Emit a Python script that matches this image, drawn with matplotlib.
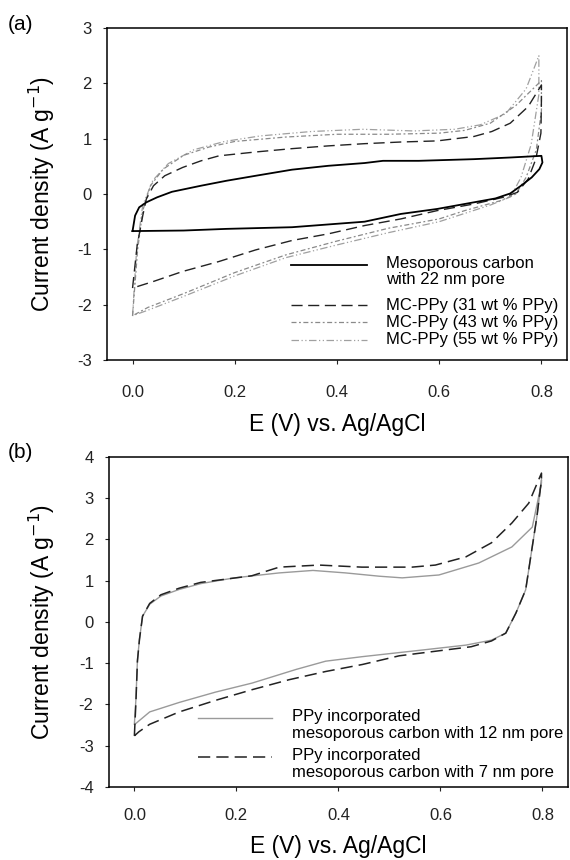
import matplotlib
matplotlib.use("Agg")
import matplotlib.pyplot as plt

plt.rcParams['font.family'] = ['Liberation Sans', 'DejaVu Sans']

# ---------------- Panel (a) data ----------------
mc_x = [0.0, 0.005, 0.013, 0.027, 0.048, 0.077, 0.134, 0.184, 0.241, 0.312, 0.383, 0.454,
        0.49, 0.56, 0.668, 0.739, 0.8, 0.802, 0.796, 0.781, 0.76, 0.739, 0.71, 0.668,
        0.596, 0.525, 0.454, 0.312, 0.184, 0.1, 0.0]
mc_y = [-0.67, -0.39, -0.24, -0.15, -0.06, 0.04, 0.15, 0.24, 0.33, 0.44, 0.51, 0.56,
        0.6, 0.6, 0.63, 0.66, 0.69, 0.57, 0.45, 0.30, 0.15, 0.01, -0.08, -0.15,
        -0.27, -0.36, -0.50, -0.60, -0.63, -0.66, -0.67]

p31_x = [0.0, 0.009, 0.02, 0.027, 0.041, 0.063, 0.098, 0.134, 0.169, 0.241, 0.312, 0.383,
         0.454, 0.525, 0.596, 0.668, 0.703, 0.739, 0.774, 0.8, 0.8, 0.799, 0.789, 0.774,
         0.753, 0.725, 0.668, 0.596, 0.525, 0.454, 0.383, 0.312, 0.241, 0.169, 0.098,
         0.041, 0.0]
p31_y = [-1.7, -0.93, -0.39, -0.09, 0.15, 0.33, 0.48, 0.6, 0.69, 0.76, 0.82, 0.87,
         0.91, 0.94, 0.96, 1.04, 1.13, 1.28, 1.58, 1.97, 1.7, 1.1, 0.63, 0.27,
         0.03, -0.06, -0.18, -0.30, -0.45, -0.57, -0.72, -0.84, -1.01, -1.22, -1.40,
         -1.58, -1.7]

p43_x = [0.0, 0.01, 0.02, 0.035, 0.06, 0.1, 0.15, 0.2, 0.3, 0.4, 0.5, 0.6, 0.65, 0.7,
         0.75, 0.8, 0.8, 0.79, 0.77, 0.75, 0.72, 0.65, 0.6, 0.5, 0.4, 0.3, 0.2, 0.1,
         0.03, 0.0]
p43_y = [-2.2, -1.0, -0.3, 0.15, 0.45, 0.7, 0.85, 0.95, 1.03, 1.08, 1.08, 1.1, 1.15, 1.28,
         1.6, 2.05, 1.5, 0.8, 0.3, 0.0, -0.12, -0.3, -0.45, -0.62, -0.85, -1.1, -1.42, -1.8,
         -2.05, -2.2]

p55_x = [0.0, 0.008, 0.02, 0.04, 0.07, 0.12, 0.18, 0.25, 0.35, 0.45, 0.55, 0.63, 0.68,
         0.73, 0.77, 0.795, 0.795, 0.78, 0.76, 0.74, 0.7, 0.6, 0.5, 0.4, 0.3, 0.2, 0.1,
         0.03, 0.0]
p55_y = [-2.2, -1.0, -0.2, 0.25, 0.55, 0.8, 0.95, 1.05, 1.13, 1.17, 1.14, 1.17, 1.25,
         1.45, 1.9, 2.5, 1.8, 0.9, 0.3, -0.05, -0.2, -0.5, -0.7, -0.92, -1.15, -1.48, -1.85,
         -2.1, -2.2]

# ---------------- Panel (b) data ----------------
n12_x = [0.0, 0.003, 0.006, 0.01, 0.016, 0.03, 0.052, 0.088, 0.13, 0.196, 0.284, 0.35,
         0.414, 0.48, 0.525, 0.597, 0.675, 0.74, 0.78, 0.798, 0.798, 0.789, 0.779, 0.767,
         0.748, 0.728, 0.70, 0.65, 0.564, 0.447, 0.375, 0.317, 0.231, 0.159, 0.088, 0.03,
         0.001]
n12_y = [-2.48, -1.88, -0.92, -0.42, 0.14, 0.43, 0.63, 0.79, 0.93, 1.07, 1.19, 1.25,
         1.19, 1.11, 1.07, 1.14, 1.43, 1.82, 2.3, 3.37, 3.45, 2.55, 1.75, 0.78,
         0.22, -0.27, -0.44, -0.56, -0.68, -0.84, -0.95, -1.15, -1.48, -1.7, -1.95, -2.18,
         -2.48]

n7_x = [0.0, 0.003, 0.006, 0.01, 0.016, 0.03, 0.052, 0.088, 0.13, 0.23, 0.284, 0.362,
        0.446, 0.544, 0.59, 0.65, 0.70, 0.74, 0.773, 0.798, 0.798, 0.789, 0.779, 0.767,
        0.748, 0.728, 0.70, 0.66, 0.519, 0.447, 0.375, 0.303, 0.231, 0.159, 0.088, 0.03,
        0.009, 0.0]
n7_y = [-2.76, -1.95, -0.95, -0.42, 0.14, 0.45, 0.66, 0.82, 0.96, 1.12, 1.33, 1.38,
        1.33, 1.33, 1.38, 1.58, 1.92, 2.4, 2.88, 3.61, 3.45, 2.55, 1.75, 0.78,
        0.22, -0.27, -0.46, -0.6, -0.82, -1.03, -1.2, -1.4, -1.64, -1.9, -2.18, -2.48,
        -2.66, -2.76]

xticks = [0.0, 0.2, 0.4, 0.6, 0.8]
xtick_labels = ['0.0', '0.2', '0.4', '0.6', '0.8']
yticks_a = [-3, -2, -1, 0, 1, 2, 3]
yticks_b = [-4, -3, -2, -1, 0, 1, 2, 3, 4]

leg_a = ['Mesoporous carbon\nwith 22 nm pore', 'MC-PPy (31 wt % PPy)',
         'MC-PPy (43 wt % PPy)', 'MC-PPy (55 wt % PPy)']
leg_b = ['PPy incorporated\nmesoporous carbon with 12 nm pore',
         'PPy incorporated\nmesoporous carbon with 7 nm pore']

fig = plt.figure(figsize=(5.7, 8.6), dpi=100)
axa = fig.add_axes([0.1877, 0.5814, 0.807, 0.386])
axb = fig.add_axes([0.191, 0.0849, 0.8055, 0.3837])

sty_a = [dict(color='black', lw=1.3, ls='-'),
         dict(color='#222222', lw=1.0, ls=(0, (8, 4))),
         dict(color='#8a8a8a', lw=0.9, ls=(0, (4, 2, 1.5, 2))),
         dict(color='#a0a0a0', lw=0.9, ls=(0, (6, 2, 1, 2, 1, 2)))]
curves_a = [(mc_x, mc_y), (p31_x, p31_y), (p43_x, p43_y), (p55_x, p55_y)]
for (x, y), s in zip(curves_a[::-1], sty_a[::-1]):
    axa.plot(x, y, **s)

sty_b = [dict(color='#9a9a9a', lw=1.0, ls='-'),
         dict(color='#222222', lw=1.1, ls=(0, (8, 4)))]
curves_b = [(n12_x, n12_y), (n7_x, n7_y)]
for (x, y), s in zip(curves_b, sty_b):
    axb.plot(x, y, **s)

for ax, yt, lim in [(axa, yticks_a, (-3, 3)), (axb, yticks_b, (-4, 4))]:
    ax.set_xlim(-0.05, 0.85)
    ax.set_ylim(*lim)
    ax.set_xticks(xticks)
    ax.set_xticklabels(xtick_labels)
    ax.set_yticks(yt)
    ax.set_yticklabels([str(v) for v in yt])
    ax.tick_params(direction='out', length=3, width=0.8, labelsize=12,
                   colors='#222222')
    for sp in ax.spines.values():
        sp.set_linewidth(1.1)
    ax.set_ylabel('Current density (A g$^{-1}$)', fontsize=16.5)
    ax.set_xlabel('E (V) vs. Ag/AgCl', fontsize=16.5)

axa.tick_params(axis='x', pad=15)
axa.tick_params(axis='y', pad=8)
axb.tick_params(axis='x', pad=12)
axb.tick_params(axis='y', pad=8)
axa.yaxis.set_label_coords(-0.108, 0.5)
axb.yaxis.set_label_coords(-0.112, 0.5)
axa.xaxis.set_label_coords(0.5, -0.16)
axb.xaxis.set_label_coords(0.5, -0.145)

fig.text(8/570, 1 - 24/860, '(a)', fontsize=15, va='center', ha='left')
fig.text(8/570, 1 - 453/860, '(b)', fontsize=15, va='center', ha='left')

# legends (manual, in axes fraction)
ya_rows = [265, 305, 322, 340]
for i, (lab, s, py) in enumerate(zip(leg_a, sty_a, ya_rows)):
    fy = (360 - py) / 332
    axa.plot([0.40, 0.565], [fy, fy], transform=axa.transAxes, **s)
    if '\n' in lab:
        axa.text(0.607, fy + 0.027, lab, transform=axa.transAxes, fontsize=12,
                 va='top', ha='left', linespacing=1.05)
    else:
        axa.text(0.607, fy, lab, transform=axa.transAxes, fontsize=12,
                 va='center', ha='left')

yb_rows = [718, 757]
for lab, s, py in zip(leg_b, sty_b, yb_rows):
    fy = (787 - py) / 330
    axb.plot([0.195, 0.355], [fy, fy], transform=axb.transAxes, **s)
    axb.text(0.398, fy + 0.028, lab, transform=axb.transAxes, fontsize=12, va='top',
             ha='left', linespacing=1.15)

fig.savefig('out.png', dpi=100)
